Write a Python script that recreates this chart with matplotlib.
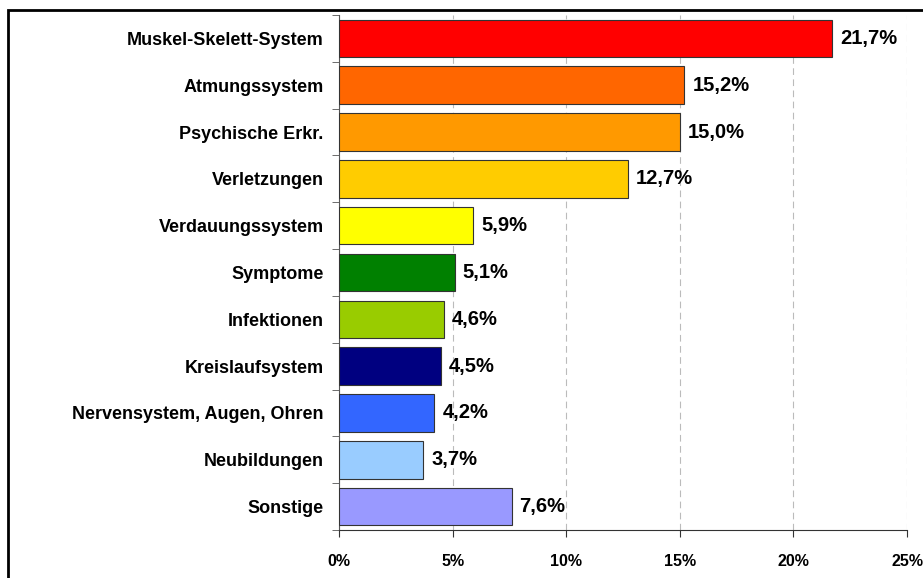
import matplotlib.pyplot as plt
from matplotlib.patches import Rectangle

# Anteile der AU-Tage nach Krankheitsart
categories = ["Muskel-Skelett-System", "Atmungssystem", "Psychische Erkr.",
              "Verletzungen", "Verdauungssystem", "Symptome", "Infektionen",
              "Kreislaufsystem", "Nervensystem, Augen, Ohren", "Neubildungen",
              "Sonstige"]
values = [21.7, 15.2, 15.0, 12.7, 5.9, 5.1, 4.6, 4.5, 4.2, 3.7, 7.6]
colors = ["#FF0000", "#FF6600", "#FF9900", "#FFCC00", "#FFFF00", "#008000",
          "#99CC00", "#000080", "#3366FF", "#99CCFF", "#9999FF"]
xticks = [0, 5, 10, 15, 20, 25]

plt.rcParams['font.family'] = ['Liberation Sans', 'DejaVu Sans']
plt.rcParams['font.weight'] = 'bold'

fig = plt.figure(figsize=(9.23, 5.78), dpi=100)
ax = fig.add_axes([339/923, 1 - 530/578, (907 - 339)/923, (530 - 15)/578])

# Rahmen um die Grafik
fig.patches.append(Rectangle((8/923, -0.1), 1.2, 1.1 - 10/578,
                             transform=fig.transFigure, fill=False,
                             edgecolor="black", linewidth=2))

n = len(categories)
ypos = list(range(n))
ax.barh(ypos, values, height=0.8, color=colors, edgecolor="#333333",
        linewidth=0.8, zorder=3)
for y, v in zip(ypos, values):
    ax.text(v + 0.35, y, f"{v:.1f}%".replace(".", ","), va="center",
            ha="left", fontsize=14.5, fontweight="bold")

ax.set_ylim(n - 0.5, -0.5)
ax.set_xlim(0, 25)
ax.set_xticks(xticks)
ax.set_xticklabels([f"{t}%" for t in xticks], fontsize=11.5, fontweight="bold")
ax.set_yticks(ypos)
ax.set_yticklabels(categories, fontsize=13, fontweight="bold")
ax.tick_params(axis="y", length=0, pad=11)
ax.set_yticks([i - 0.5 for i in range(n + 1)], minor=True)
ax.tick_params(axis="y", which="minor", length=5, color="#555555")
ax.tick_params(axis="x", length=5, pad=12, color="#333333")

ax.grid(axis="x", color="#BBBBBB", linestyle=(0, (6, 4)), linewidth=0.8, zorder=0)
for s in ["top", "right"]:
    ax.spines[s].set_visible(False)
ax.spines["left"].set_color("#555555")
ax.spines["bottom"].set_color("#333333")

fig.savefig("out.png", dpi=100)
